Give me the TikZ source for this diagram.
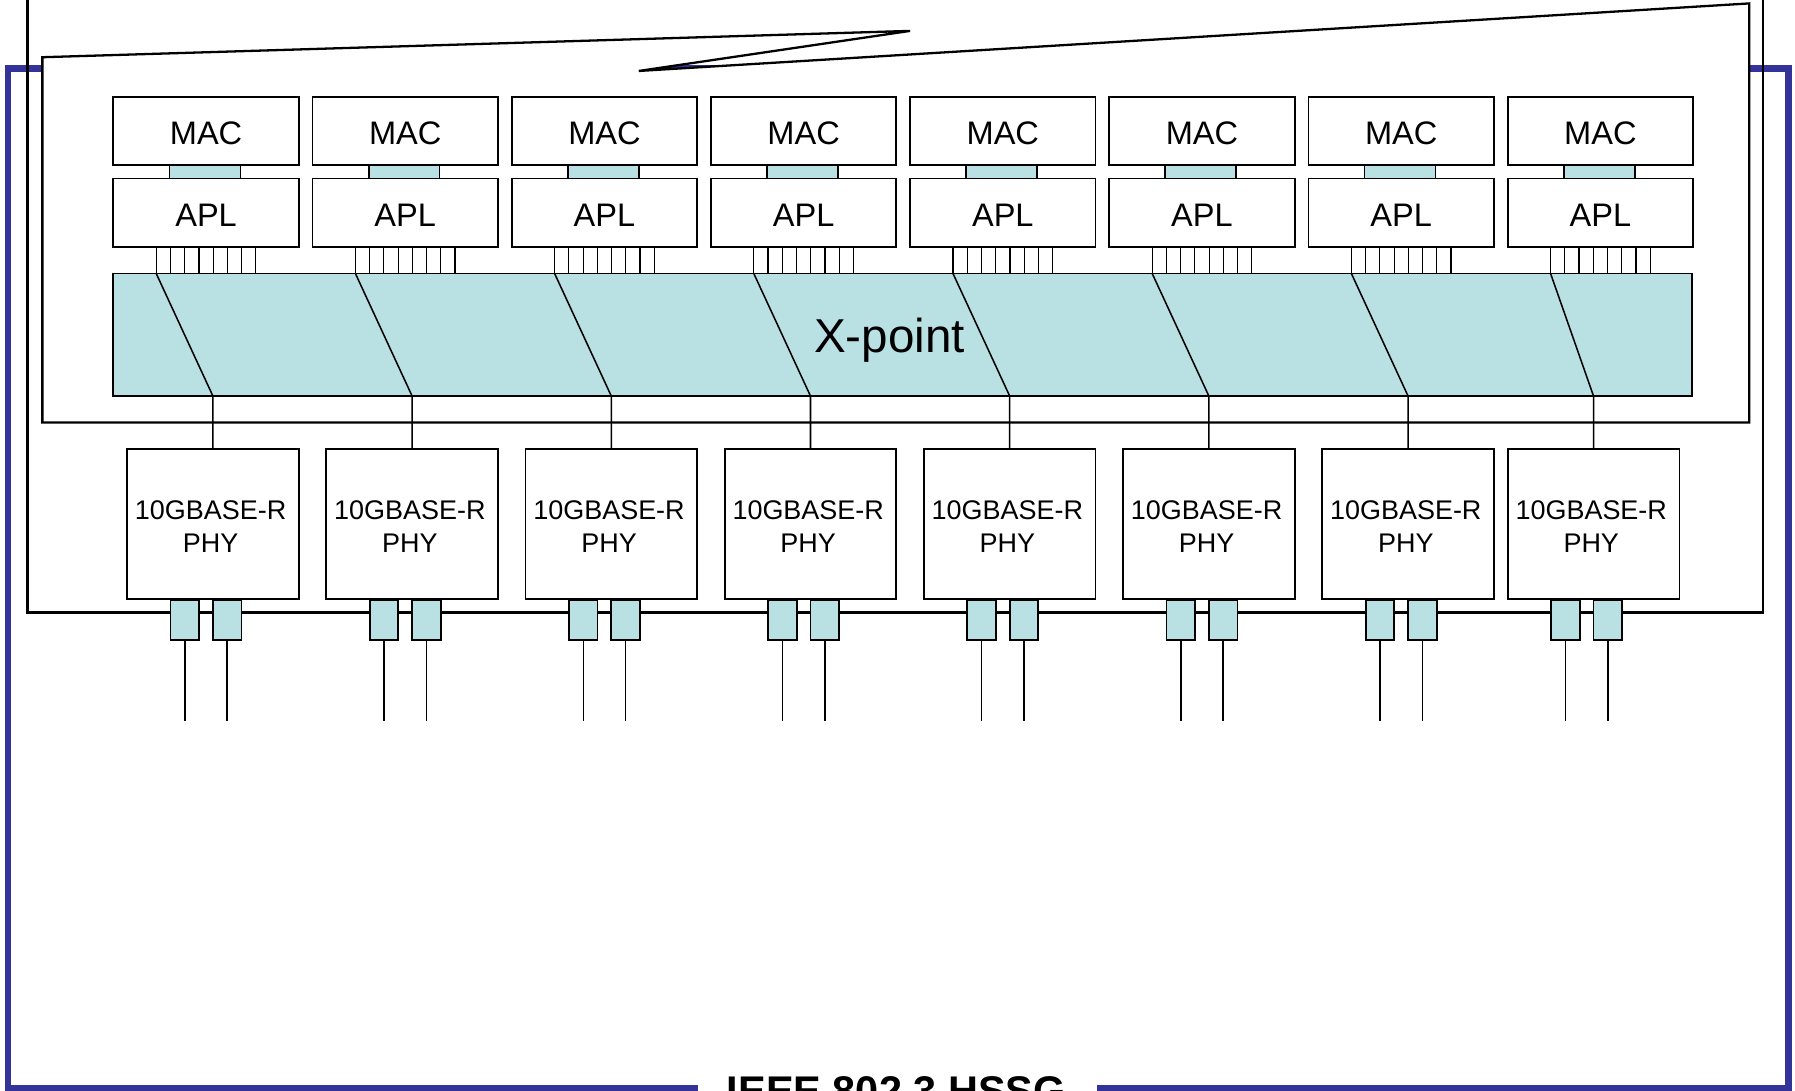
\documentclass[tikz,border=0pt]{standalone}
\usepackage{fontspec}
\setmainfont{Liberation Sans}
\definecolor{tealfill}{RGB}{185,224,227}
\definecolor{frameblue}{RGB}{51,51,153}
\begin{document}
\begin{tikzpicture}[x=0.45pt,y=-0.45pt,
  every node/.style={inner sep=0pt,outer sep=0pt},
  macbox/.style={draw,line width=0.7pt,fill=white,minimum width=72.9pt,minimum height=26.8pt,text height=10.56pt,text depth=0pt,font=\fontsize{12.8}{15}\selectfont},
  linkbox/.style={draw,line width=0.7pt,fill=tealfill,minimum width=27.9pt,minimum height=5.4pt},
  xpbox/.style={draw,line width=0.7pt,fill=tealfill,minimum width=620.55pt,minimum height=48.15pt},
  phybox/.style={draw,line width=0.7pt,fill=white,minimum width=67.5pt,minimum height=58.95pt},
  phytext/.style={align=center,font=\fontsize{10.6}{12.6}\selectfont},
  portbox/.style={draw,line width=0.7pt,fill=tealfill,minimum width=11.25pt,minimum height=15.75pt},
  busline/.style={line width=0.45pt},
  wire/.style={line width=0.6pt}]
\useasboundingbox (0,0) rectangle (1568,953);
\clip (0,0) rectangle (1568,953);
% slide frame
\draw[frameblue,line width=2.7pt,line join=miter] (610,951) -- (7,951) -- (7,60) -- (1562,60) -- (1562,951) -- (958,951);
\node[font=\bfseries\fontsize{16.3}{18}\selectfont,anchor=base] (title) at (783,966) {IEEE 802.3 HSSG};
% outer enclosure
\draw[line width=0.9pt] (24,-10) -- (24,535) -- (1540,535) -- (1540,-10);
% inner chassis outline
\draw[line width=0.9pt,fill=white,line join=miter] (37,50) -- (795,27) -- (558,62) -- (1528,3) -- (1528,369) -- (37,369) -- cycle;
% crosspoint
\node[xpbox] (xp) at (788.5,292.5) {};
\node[font=\fontsize{18.7}{22}\selectfont,anchor=base] (xt) at (777,308) {X-point};
\foreach \i in {1,...,8}{
  \pgfmathsetmacro{\L}{99+174*(\i-1)}
  \pgfmathsetmacro{\P}{\i<8 ? 111+174*(\i-1) : 1317}
  \node[macbox] (m\i) at (\L+81,114.25) {MAC};
  \node[macbox,minimum height=27pt] (a\i) at (\L+81,186) {APL};
  \node[linkbox] (c\i) at (\L+80,150) {};
  \foreach \k in {0,...,7}{
    \path (a\i.south west) ++(37.5+12.43*\k,0) coordinate (b\i-\k);
    \draw[busline] (b\i-\k) -- (b\i-\k |- xp.north);
  }
  \node[phybox] (p\i) at (\P+75,458) {};
  \node[phytext] (pt\i) at (\P+73,460) {10GBASE-R\\PHY};
  \draw[wire] (b\i-0 |- xp.north) -- (p\i |- xp.south) -- (p\i.north);
  \node[portbox] (qa\i) at (\P+50.5,541.5) {};
  \node[portbox] (qb\i) at (\P+87.5,541.5) {};
  \coordinate (ea\i) at (\P+50.5,630);
  \coordinate (eb\i) at (\P+87.5,630);
  \draw[wire] (qa\i.south) -- (ea\i);
  \draw[wire] (qb\i.south) -- (eb\i);
}
\end{tikzpicture}
\end{document}
